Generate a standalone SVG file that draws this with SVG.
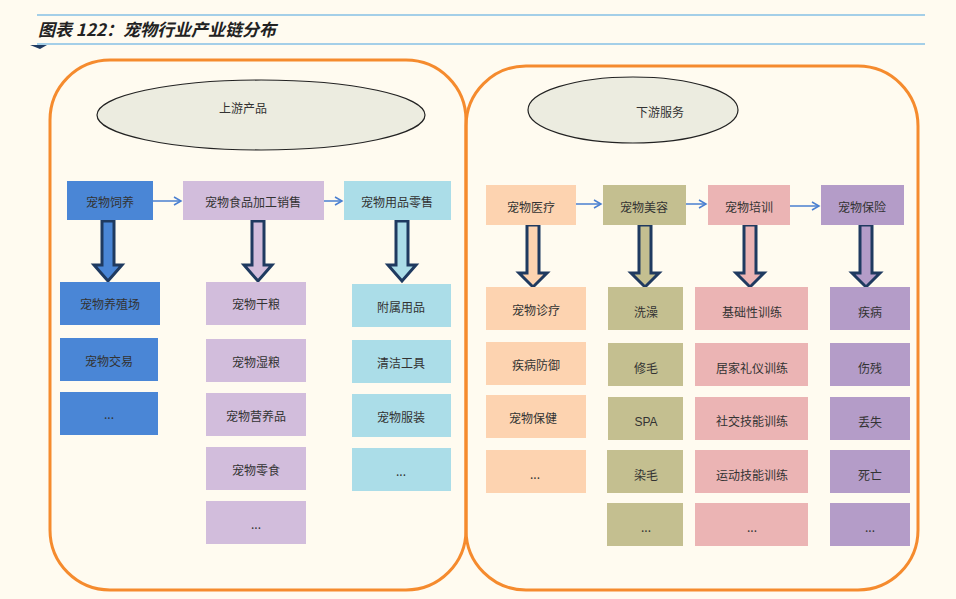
<svg xmlns="http://www.w3.org/2000/svg" width="956" height="599" viewBox="0 0 956 599">
<defs>
<style>
text{font-family:"Noto Sans CJK SC","Liberation Sans",sans-serif;font-size:12px;fill:#333;text-anchor:middle;dominant-baseline:central}
.cont{fill:none;stroke:#f58b2e;stroke-width:3}
.ell{fill:#ecece0;stroke:#222;stroke-width:1.2}
.fa{stroke:#1f3a60;stroke-width:3;stroke-linejoin:miter}
.ha{stroke:#4a7fd0;stroke-width:1.5;fill:none;marker-end:url(#ah)}
.b1{fill:#4a86d6}.b2{fill:#d2bddc}.b3{fill:#abdde8}.b4{fill:#fdd3b0}.b5{fill:#c4bf90}.b6{fill:#ebb4b4}.b7{fill:#b49cc8}
</style>
<marker id="ah" markerWidth="10" markerHeight="10" refX="8" refY="5" orient="auto" markerUnits="userSpaceOnUse"><path d="M1,1 L8,5 L1,9" fill="none" stroke="#4a7fd0" stroke-width="1.5"/></marker>
</defs>
<rect width="956" height="599" fill="#fffbf0"/>
<g id="title">
<line x1="37" y1="15" x2="925" y2="15" stroke="#4aa3df" stroke-width="1.2"/>
<line x1="37" y1="44" x2="925" y2="44" stroke="#4aa3df" stroke-width="1.2"/>
<path d="M30,45 L47,45 L40,49 Z" fill="#1f3a60"/>
<text x="38" y="28" style="text-anchor:start;font-size:17px;font-weight:bold;font-style:italic;fill:#222">图表 122：宠物行业产业链分布</text>
</g>
<g id="upstream">
<rect class="cont" x="50" y="60" width="416" height="530" rx="60"/>
<ellipse class="ell" cx="261" cy="115" rx="164" ry="35"/>
<text x="243" y="107">上游产品</text>
</g>
<g id="downstream">
<rect class="cont" x="466" y="66" width="452" height="524" rx="60"/>
<ellipse class="ell" cx="633" cy="110" rx="105" ry="33"/>
<text x="660" y="111">下游服务</text>
</g>
<g id="connectors">
<line class="ha" x1="153" y1="201" x2="181" y2="201"/>
<line class="ha" x1="324" y1="201" x2="342" y2="201"/>
<line class="ha" x1="576" y1="204" x2="601" y2="204"/>
<line class="ha" x1="686" y1="204" x2="706" y2="204"/>
<line class="ha" x1="790" y1="206" x2="819" y2="206"/>
<path class="fa b1" d="M102,221 L114,221 L114,265 L122,265 L108,281 L94,265 L102,265 Z"/>
<path class="fa b2" d="M252,221 L264,221 L264,265 L272,265 L258,281 L244,265 L252,265 Z"/>
<path class="fa b3" d="M396,221 L408,221 L408,265 L416,265 L402,281 L388,265 L396,265 Z"/>
<path class="fa b4" d="M527,225 L539,225 L539,273 L547,273 L533,287 L519,273 L527,273 Z"/>
<path class="fa b5" d="M639,225 L651,225 L651,273 L659,273 L645,287 L631,273 L639,273 Z"/>
<path class="fa b6" d="M744,225 L756,225 L756,273 L764,273 L750,287 L736,273 L744,273 Z"/>
<path class="fa b7" d="M860,225 L872,225 L872,273 L880,273 L866,287 L852,273 L860,273 Z"/>
</g>
<g id="n-feed"><rect class="b1" x="67" y="181" width="86" height="39"/><text x="110" y="201">宠物饲养</text></g>
<g id="n-food"><rect class="b2" x="183" y="181" width="141" height="39"/><text x="253" y="201">宠物食品加工销售</text></g>
<g id="n-retail"><rect class="b3" x="344" y="181" width="107" height="39"/><text x="397" y="201">宠物用品零售</text></g>
<g id="n-l1"><rect class="b1" x="60" y="282" width="100" height="43"/><text x="110" y="303">宠物养殖场</text></g>
<g id="n-l2"><rect class="b1" x="60" y="338" width="98" height="43"/><text x="109" y="360">宠物交易</text></g>
<g id="n-l3"><rect class="b1" x="60" y="392" width="98" height="43"/><text x="109" y="413">...</text></g>
<g id="n-m1"><rect class="b2" x="206" y="282" width="100" height="43"/><text x="256" y="303">宠物干粮</text></g>
<g id="n-m2"><rect class="b2" x="206" y="339" width="100" height="43"/><text x="256" y="361">宠物湿粮</text></g>
<g id="n-m3"><rect class="b2" x="206" y="393" width="100" height="43"/><text x="256" y="415">宠物营养品</text></g>
<g id="n-m4"><rect class="b2" x="206" y="447" width="100" height="43"/><text x="256" y="469">宠物零食</text></g>
<g id="n-m5"><rect class="b2" x="206" y="501" width="100" height="43"/><text x="256" y="523">...</text></g>
<g id="n-r1"><rect class="b3" x="352" y="284" width="99" height="43"/><text x="401" y="306">附属用品</text></g>
<g id="n-r2"><rect class="b3" x="352" y="340" width="99" height="43"/><text x="401" y="362">清洁工具</text></g>
<g id="n-r3"><rect class="b3" x="352" y="394" width="99" height="43"/><text x="401" y="416">宠物服装</text></g>
<g id="n-r4"><rect class="b3" x="352" y="448" width="99" height="43"/><text x="401" y="470">...</text></g>
<g id="n-med"><rect class="b4" x="486" y="185" width="90" height="40"/><text x="531" y="206">宠物医疗</text></g>
<g id="n-beauty"><rect class="b5" x="603" y="185" width="83" height="40"/><text x="644" y="206">宠物美容</text></g>
<g id="n-train"><rect class="b6" x="708" y="185" width="82" height="40"/><text x="749" y="206">宠物培训</text></g>
<g id="n-ins"><rect class="b7" x="821" y="185" width="83" height="40"/><text x="862" y="206">宠物保险</text></g>
<g id="n-a1"><rect class="b4" x="486" y="287" width="100" height="43"/><text x="536" y="309">宠物诊疗</text></g>
<g id="n-a2"><rect class="b4" x="486" y="342" width="100" height="43"/><text x="536" y="364">疾病防御</text></g>
<g id="n-a3"><rect class="b4" x="486" y="395" width="100" height="43"/><text x="533" y="417">宠物保健</text></g>
<g id="n-a4"><rect class="b4" x="486" y="450" width="100" height="43"/><text x="535" y="473">...</text></g>
<g id="n-b1"><rect class="b5" x="608" y="287" width="75" height="43"/><text x="646" y="311">洗澡</text></g>
<g id="n-b2"><rect class="b5" x="608" y="343" width="75" height="43"/><text x="646" y="367">修毛</text></g>
<g id="n-b3"><rect class="b5" x="608" y="397" width="75" height="43"/><text x="646" y="422" style="font-family:'Liberation Sans',sans-serif">SPA</text></g>
<g id="n-b4"><rect class="b5" x="607" y="450" width="76" height="43"/><text x="646" y="474">染毛</text></g>
<g id="n-b5"><rect class="b5" x="607" y="503" width="76" height="43"/><text x="646" y="526">...</text></g>
<g id="n-c1"><rect class="b6" x="695" y="287" width="113" height="43"/><text x="752" y="311">基础性训练</text></g>
<g id="n-c2"><rect class="b6" x="695" y="343" width="113" height="43"/><text x="752" y="367">居家礼仪训练</text></g>
<g id="n-c3"><rect class="b6" x="695" y="397" width="113" height="43"/><text x="752" y="420">社交技能训练</text></g>
<g id="n-c4"><rect class="b6" x="695" y="450" width="113" height="43"/><text x="752" y="474">运动技能训练</text></g>
<g id="n-c5"><rect class="b6" x="695" y="503" width="113" height="43"/><text x="752" y="526">...</text></g>
<g id="n-d1"><rect class="b7" x="830" y="287" width="80" height="43"/><text x="870" y="311">疾病</text></g>
<g id="n-d2"><rect class="b7" x="830" y="343" width="80" height="43"/><text x="870" y="367">伤残</text></g>
<g id="n-d3"><rect class="b7" x="830" y="397" width="80" height="43"/><text x="870" y="421">丢失</text></g>
<g id="n-d4"><rect class="b7" x="830" y="450" width="80" height="43"/><text x="870" y="474">死亡</text></g>
<g id="n-d5"><rect class="b7" x="830" y="503" width="80" height="43"/><text x="870" y="526">...</text></g>
</svg>
